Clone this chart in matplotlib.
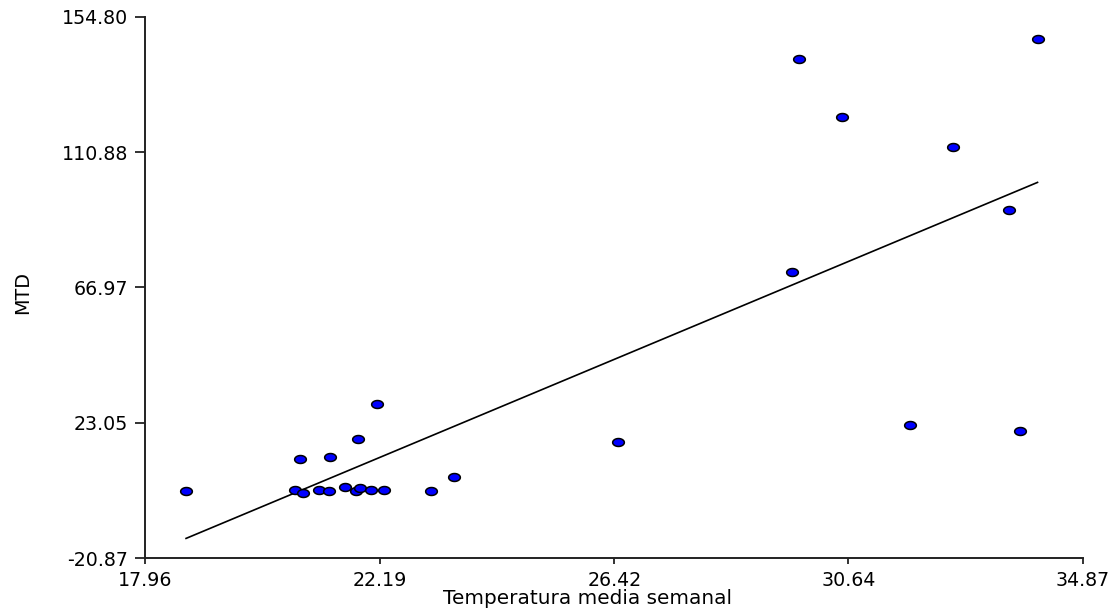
import numpy as np
import matplotlib
matplotlib.use("Agg")
import matplotlib.pyplot as plt
from matplotlib.path import Path

# ---- data ----
temperatura = [18.70, 20.66, 20.80, 20.75, 21.10, 21.27, 21.30, 21.57, 21.76,
               21.84, 21.80, 22.03, 22.14, 22.26, 23.12, 23.53, 26.49, 31.75,
               33.73, 29.75, 34.05, 30.52, 32.53, 33.54, 29.62]
mtd = [0.89, 1.21, 0.33, 11.18, 1.21, 0.89, 12.02, 2.18, 0.89,
       1.76, 17.67, 1.21, 29.04, 1.21, 0.89, 5.53, 16.70, 22.41,
       20.46, 141.06, 147.65, 122.33, 112.49, 92.23, 72.09]

x_ticks = [17.96, 22.19, 26.42, 30.64, 34.87]
y_ticks = [-20.87, 23.05, 66.97, 110.88, 154.80]
x_label = "Temperatura media semanal"
y_label = "MTD"

plt.rcParams['font.family'] = ['DejaVu Sans']

fig = plt.figure(figsize=(11.18, 6.12), dpi=100)
ax = fig.add_axes([145 / 1118, 1 - 558 / 612, 938 / 1118, 541 / 612])

# regression line through fitted values
x = np.array(temperatura)
y = np.array(mtd)
slope, intercept = np.polyfit(x, y, 1)
xs = np.sort(x)
ax.plot(xs, intercept + slope * xs, color='black', lw=1.2, zorder=2)

# elliptical markers (the reference is horizontally stretched)
t = np.linspace(0, 2 * np.pi, 60)
ell = Path(np.column_stack([np.cos(t), 0.68 * np.sin(t)]), closed=True)
ax.plot(x, y, linestyle='none', marker=ell, markersize=8.4,
        markerfacecolor='#0000FF', markeredgecolor='black',
        markeredgewidth=1.1, zorder=3)

ax.set_xlim(x_ticks[0], x_ticks[-1])
ax.set_ylim(y_ticks[0], y_ticks[-1])
ax.set_xticks(x_ticks)
ax.set_xticklabels([f"{v:.2f}" for v in x_ticks])
ax.set_yticks(y_ticks)
ax.set_yticklabels([f"{v:.2f}" for v in y_ticks])

for s in ['top', 'right']:
    ax.spines[s].set_visible(False)
for s in ['left', 'bottom']:
    ax.spines[s].set_linewidth(1.4)
    ax.spines[s].set_color('#222222')

ax.tick_params(axis='x', length=4, width=1.3, pad=5, labelsize=13.7, color='#222222')
ax.tick_params(axis='y', length=7, width=1.3, pad=5, labelsize=13.7, color='#222222')

ax.set_xlabel(x_label, fontsize=14.4)
ax.set_ylabel(y_label, fontsize=13.8)
ax.xaxis.set_label_coords(0.472, -0.058)
ax.yaxis.set_label_coords(-0.120, 0.49)

fig.savefig("out.png", dpi=100)
